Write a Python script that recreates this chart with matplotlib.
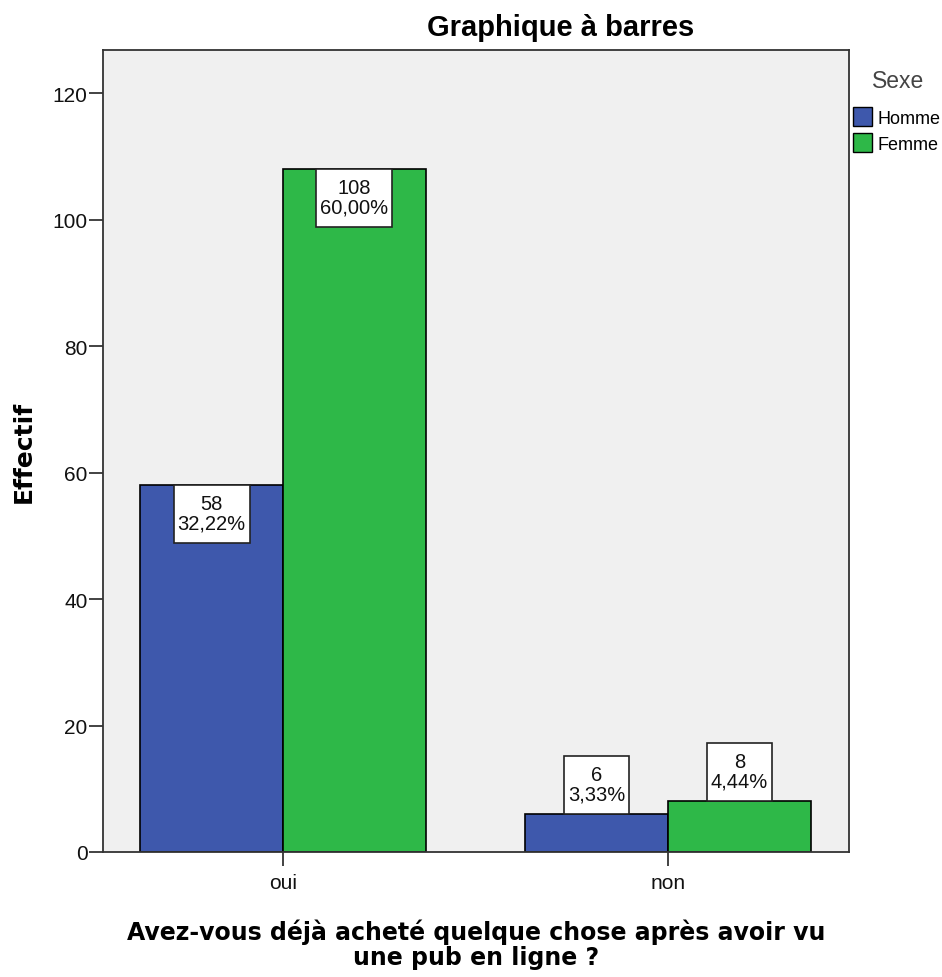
import matplotlib
matplotlib.use("Agg")
import matplotlib.pyplot as plt
from matplotlib.patches import Rectangle, Patch
import numpy as np

# Effectifs par réponse et par sexe
categories = ["oui", "non"]
sexes = ["Homme", "Femme"]
counts = {"Homme": [58, 6], "Femme": [108, 8]}
pct_labels = {"Homme": ["32,22%", "3,33%"], "Femme": ["60,00%", "4,44%"]}
yticks = [0, 20, 40, 60, 80, 100, 120]

colors = {"Homme": "#3E58AC", "Femme": "#2EB848"}
W, H = 942, 978

plt.rcParams["font.family"] = ["Liberation Sans", "DejaVu Sans"]

fig = plt.figure(figsize=(W / 100, H / 100), dpi=100)
ax = fig.add_axes([103 / W, 1 - 853 / H, 746 / W, 802 / H])
ax.set_facecolor("#F0F0F0")

x = np.arange(len(categories))
bw = 0.371
for k, s in enumerate(sexes):
    xs = x + (k - 0.5) * bw
    ax.bar(xs, counts[s], width=bw, color=colors[s], edgecolor="black",
           linewidth=1.2, zorder=2)

ax.set_xlim(-0.4675, 1.47)
ax.set_ylim(0, 126.8)
ax.set_yticks(yticks)
ax.set_xticks(x)
ax.set_xticklabels(categories)
ax.tick_params(axis="both", direction="out", length=10, width=1.2,
               color="#222222", labelsize=15, labelcolor="#111111", pad=1)
ax.tick_params(axis="x", pad=5)
for sp in ax.spines.values():
    sp.set_color("#333333")
    sp.set_linewidth(1.3)

# Étiquettes : effectif et pourcentage dans une boîte blanche
fig.canvas.draw()
renderer = fig.canvas.get_renderer()
inv = ax.transData.inverted()
box_h = 58  # px
for k, s in enumerate(sexes):
    for i, v in enumerate(counts[s]):
        xc = x[i] + (k - 0.5) * bw
        px_x, px_top = ax.transData.transform((xc, v))
        inside = v > 30
        cy = px_top - box_h / 2 if inside else px_top + box_h / 2
        _, yc = inv.transform((px_x, cy))
        t = ax.text(xc, yc + 0.15, f"{v}\n{pct_labels[s][i]}", ha="center",
                    va="center", fontsize=14.5, linespacing=1.05,
                    color="#111111", zorder=4)
        bb = t.get_window_extent(renderer=renderer)
        bw_px = bb.width + 8
        (x0, y0) = inv.transform((px_x - bw_px / 2, cy - box_h / 2))
        (x1, y1) = inv.transform((px_x + bw_px / 2, cy + box_h / 2))
        ax.add_patch(Rectangle((x0, y0), x1 - x0, y1 - y0, facecolor="white",
                               edgecolor="#222222", linewidth=1.2, zorder=3))

ax.set_ylabel("Effectif", fontsize=18, fontweight="bold", family="DejaVu Sans",
              labelpad=12)
ax.set_xlabel("Avez-vous déjà acheté quelque chose après avoir vu\nune pub en ligne ?",
              fontsize=17, fontweight="bold", family="DejaVu Sans",
              linespacing=1.05, labelpad=19)
fig.text(561 / W, 1 - 36 / H, "Graphique à barres", ha="center", va="baseline",
         fontsize=21, fontweight="bold")

# Légende : titre à part, puis les carrés de couleur
fig.text(898 / W, 1 - 88 / H, "Sexe", ha="center", va="baseline",
         fontsize=16.5, color="#444444")
handles = [Patch(facecolor=colors[s], edgecolor="black", linewidth=1.0) for s in sexes]
leg = fig.legend(handles, sexes, loc="upper left",
                 bbox_to_anchor=(853 / W, 1 - 108 / H), frameon=False, fontsize=13,
                 handlelength=1.05, handleheight=1.25, handletextpad=0.28,
                 labelspacing=0.35, borderaxespad=0, borderpad=0)

fig.savefig("out.png", dpi=100, facecolor="white")
